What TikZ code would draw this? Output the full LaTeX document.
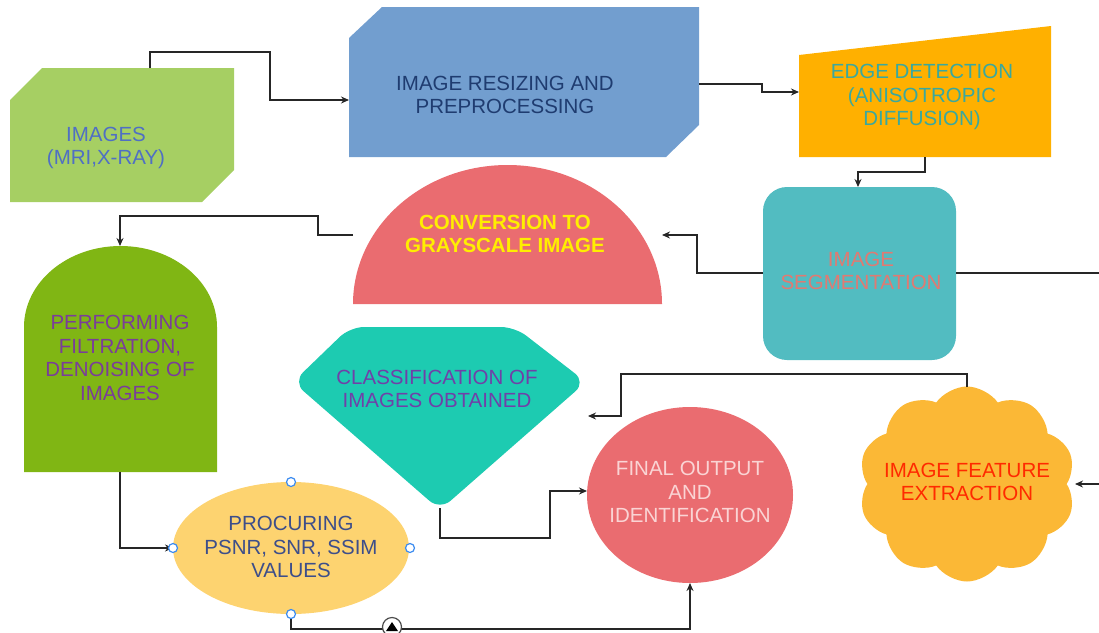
\documentclass[tikz,border=0pt]{standalone}
\usepackage{fontspec}
\setmainfont{Liberation Sans}
\usetikzlibrary{arrows.meta,shapes.geometric,shapes.symbols}
\definecolor{cGreenA}{HTML}{A6CF63}
\definecolor{cBlue}{HTML}{729ECF}
\definecolor{cOrange}{HTML}{FFB000}
\definecolor{cRed}{HTML}{EA6C70}
\definecolor{cTeal}{HTML}{52BCC1}
\definecolor{cGreenB}{HTML}{80B614}
\definecolor{cGem}{HTML}{1DCBB1}
\definecolor{cPeach}{HTML}{FDD370}
\definecolor{cCloud}{HTML}{FBB836}
\definecolor{tImg}{HTML}{4F6FC4}
\definecolor{tRes}{HTML}{1F3C70}
\definecolor{tEdge}{HTML}{3AA89E}
\definecolor{tConv}{HTML}{FFEE00}
\definecolor{tSeg}{HTML}{E07A72}
\definecolor{tFilt}{HTML}{7A3D9A}
\definecolor{tGem}{HTML}{7040A8}
\definecolor{tProc}{HTML}{3D4E8A}
\definecolor{tFin}{HTML}{FAD4D4}
\definecolor{tFeat}{HTML}{FF2A00}
\definecolor{handleblue}{HTML}{3C8CF0}
\begin{document}
\begin{tikzpicture}[x=1pt,y=-1pt,
  lbl/.style={align=center, font=\fontsize{20.5}{23.5}\selectfont, inner sep=0pt},
  conn/.style={draw=black!85, line width=1.3pt, -{Stealth[length=8pt,width=7pt]}},
  plainline/.style={draw=black!85, line width=1.3pt},
  handle/.style={circle, draw=handleblue, fill=white, line width=1.2pt, inner sep=0pt, minimum size=9pt}]
\useasboundingbox (0,0) rectangle (1099,632);

% ---------- shapes ----------
\fill[cGreenA] (10,100) -- (42,68) -- (234,68) -- (234,170) -- (202,202) -- (10,202) -- cycle;
\node[lbl, text=tImg] (images) at (106,148) {IMAGES\\(MRI,X-RAY)};

\fill[cBlue] (349,38) -- (382,7) -- (699,7) -- (699,125) -- (666,157) -- (349,157) -- cycle;
\node[lbl, text=tRes] (resize) at (505,95) {IMAGE RESIZING AND\\PREPROCESSING};

\fill[cOrange] (799,55) -- (1051,26) -- (1051,157) -- (799,157) -- cycle;
\node[lbl, text=tEdge] (edge) at (922,97) {EDGE DETECTION\\(ANISOTROPIC\\DIFFUSION)};

\fill[cRed] (353,304) arc[start angle=180, end angle=360, x radius=154.5, y radius=139] -- cycle;
\node[lbl, text=tConv, font=\fontsize{20.5}{23.5}\selectfont\bfseries] (conv) at (505,234) {CONVERSION TO\\GRAYSCALE IMAGE};

\fill[cTeal, rounded corners=24pt] (763,187) rectangle (956,360);
\node[lbl, text=tSeg] (seg) at (861,271) {IMAGE\\SEGMENTATION};

\fill[cGreenB] (24,472) -- (24,327) arc[start angle=180, end angle=360, x radius=96.5, y radius=81] -- (217,472) -- cycle;
\node[lbl, text=tFilt] (filt) at (120,358) {PERFORMING\\FILTRATION,\\DENOISING OF\\IMAGES};

\fill[cGem, rounded corners=14pt] (293,382) -- (350,327) -- (515,327) -- (586,382) -- (440,510) -- cycle;
\node[lbl, text=tGem] (gem) at (437,389) {CLASSIFICATION OF\\IMAGES OBTAINED};

\fill[cPeach] (291,548) ellipse[x radius=118, y radius=66];
\node[lbl, text=tProc] (proc) at (291,547) {PROCURING\\PSNR, SNR, SSIM\\VALUES};

\fill[cRed] (690,495) ellipse[x radius=103, y radius=88];
\node[lbl, text=tFin] (fin) at (690,492) {FINAL OUTPUT\\AND\\IDENTIFICATION};

\node[cloud, cloud puffs=10, cloud puff arc=110, fill=cCloud, minimum width=217pt, minimum height=195pt, inner sep=0pt] (featshape) at (967,484) {};
\node[lbl, text=tFeat] (feat) at (967,482) {IMAGE FEATURE\\EXTRACTION};

% ---------- anchor coordinates ----------
\coordinate (imgT) at (150,68);
\coordinate (resL) at (349,100);
\coordinate (resR) at (699,84);
\coordinate (edgeL) at (799,92);
\coordinate (edgeB) at (925,157);
\coordinate (segT) at (858,187);
\coordinate (segL) at (763,273);
\coordinate (segR) at (956,273);
\coordinate (convR) at (662,235);
\coordinate (convL) at (353,235);
\coordinate (filtT) at (120,246);
\coordinate (filtB) at (120,472);
\coordinate (procL) at (173,548);
\coordinate (procR) at (410,548);
\coordinate (procT) at (291,482);
\coordinate (procB) at (291,614);
\coordinate (finB) at (690,583);
\coordinate (finL) at (587,491);
\coordinate (gemB) at (440,508);
\coordinate (featT) at (967,387);
\coordinate (featR) at (1075,484);
\coordinate (outA) at (1099,273);
\coordinate (outB) at (1099,484);
\coordinate (looseEnd) at (588,416);

% ---------- connectors ----------
\draw[conn] (imgT) -- (150,52) -- (270,52) -- (270,100) -- (resL);
\draw[conn] (resR) -- (762,84) -- (762,92) -- (edgeL);
\draw[conn] (edgeB) -- (925,172) -- (858,172) -- (segT);
\draw[conn] (segL) -- (697,273) -- (697,235) -- (convR);
\draw[plainline] (segR) -- (outA);
\draw[conn] (outB) -- (featR);
\draw[conn] (convL) -- (318,235) -- (318,216) -- (120,216) -- (filtT);
\draw[conn] (filtB) -- (120,548) -- (procL);
\draw[conn] (procB) -- (291,629) -- (690,629) -- (finB);
\draw[conn] (gemB) -- (440,538) -- (550,538) -- (550,491) -- (finL);
\draw[conn] (featT) -- (967,374) -- (621,374) -- (621,416) -- (looseEnd);

% ---------- selection handles ----------
\node[handle] (h1) at (procT) {};
\node[handle] (h2) at (procL) {};
\node[handle] (h3) at (procR) {};
\node[handle] (h4) at (procB) {};
\node[circle, draw=black!70, fill=white, line width=1.2pt, minimum size=19pt, inner sep=0pt] (mark) at (392,627) {};
\fill[black] (386,631) -- (398,631) -- (392,622) -- cycle;
\end{tikzpicture}
\end{document}
